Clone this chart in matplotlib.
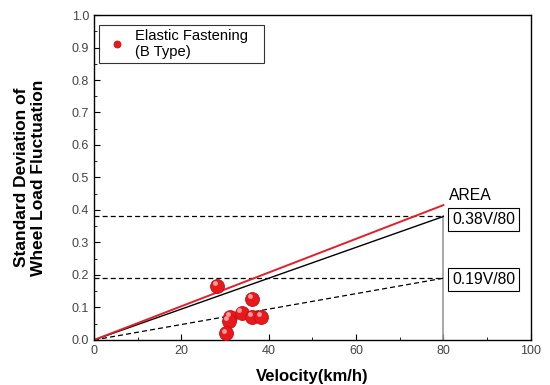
import matplotlib
matplotlib.use("Agg")
import matplotlib.pyplot as plt
from matplotlib.ticker import MultipleLocator

plt.rcParams['font.family'] = ['Liberation Sans', 'DejaVu Sans']

velocity = [28.1, 36.1, 31.1, 30.8, 33.8, 36.1, 38.2, 30.2]
std_dev = [0.166, 0.125, 0.072, 0.058, 0.084, 0.072, 0.072, 0.020]

line_x = [0, 80]
red_line = [0, 0.415]
upper_limit = [0, 0.38]
lower_limit = [0, 0.19]
upper_level = 0.38
lower_level = 0.19

fig = plt.figure(figsize=(5.5, 3.85), dpi=100)
ax = fig.add_axes([0.171, 0.117, 0.794, 0.844])

ax.plot(line_x, [upper_level, upper_level], color='black', ls=(0, (4, 2.5)), lw=0.9)
ax.plot(line_x, [lower_level, lower_level], color='black', ls=(0, (4, 2.5)), lw=0.9)
ax.plot([80, 80], [0, upper_level], color='#999999', lw=1.2)
ax.plot(line_x, lower_limit, color='black', ls=(0, (4, 2.5)), lw=0.9)
ax.plot(line_x, upper_limit, color='black', lw=1.0)
ax.plot(line_x, red_line, color='#e0202a', lw=1.4)

ax.plot(velocity, std_dev, 'o', ms=10, mfc='#e8191c', mec='#c01010', mew=0.6,
        ls='none', zorder=5, label='Elastic Fastening   \n(B Type)')
ax.plot([v - 0.5 for v in velocity], [s + 0.009 for s in std_dev], 'o', ms=3.5,
        mfc='#ff9a9a', mec='none', ls='none', zorder=6)

ax.text(81.2, 0.423, 'AREA', fontsize=11.3, va='bottom', ha='left')
ax.text(82, 0.372, '0.38V/80', fontsize=11.3, va='center', ha='left',
        bbox=dict(boxstyle='square,pad=0.25', fc='white', ec='black', lw=0.8))
ax.text(82, 0.187, '0.19V/80', fontsize=11.3, va='center', ha='left',
        bbox=dict(boxstyle='square,pad=0.25', fc='white', ec='black', lw=0.8))

ax.set_xlim(0, 100)
ax.set_ylim(0, 1.0)
ax.xaxis.set_major_locator(MultipleLocator(20))
ax.xaxis.set_minor_locator(MultipleLocator(10))
ax.yaxis.set_major_locator(MultipleLocator(0.1))
ax.yaxis.set_minor_locator(MultipleLocator(0.05))
ax.yaxis.set_major_formatter(plt.FuncFormatter(lambda v, p: f'{v:.1f}'))
ax.tick_params(which='both', direction='in', top=False, right=False,
               labelsize=9, labelcolor='#444444')
ax.tick_params(which='major', length=4)
ax.tick_params(which='minor', length=2.5)
for s in ax.spines.values():
    s.set_linewidth(1.0)

ax.set_xlabel('Velocity(km/h)', fontsize=12, fontweight='bold', labelpad=9)
ax.set_ylabel('Standard Deviation of\nWheel Load Fluctuation', fontsize=12.5,
              fontweight='bold', labelpad=18.5)

leg = ax.legend(loc='upper left', bbox_to_anchor=(0.011, 0.969), fontsize=10.6,
                frameon=True, fancybox=False, edgecolor='black', handlelength=2.0,
                markerscale=0.5, borderpad=0.25, handletextpad=0.2, borderaxespad=0)
leg.get_frame().set_linewidth(0.8)

fig.savefig('out.png', dpi=100)
